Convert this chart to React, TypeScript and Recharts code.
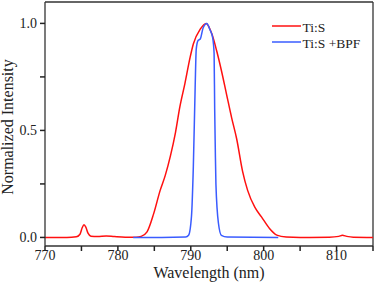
import * as React from 'react';
import { LineChart, Line, XAxis, YAxis, Legend, ReferenceLine, Label } from 'recharts';

// Ti:S laser spectrum, with and without the band-pass filter
const tisWavelength = [
  770, 773, 774.3, 774.8, 775.1, 775.35, 775.6, 775.9, 776.3, 777.2, 778.4, 779.5, 781, 782.5,
  783.2, 784.0, 784.9, 785.8, 786.5, 787.2, 787.9, 788.5, 789.2, 789.9, 790.35, 791.3, 792.1,
  792.9, 793.55, 794.2, 794.9, 795.6, 796.3, 797.1, 797.8, 798.8, 799.7, 800.8, 801.8, 803.1,
  805, 809, 810.3, 810.8, 811.4, 812.3, 815,
];
const tisIntensity = [
  0, 0, 0.003, 0.015, 0.045, 0.059, 0.048, 0.02, 0.006, 0.004, 0.007, 0.004, 0.001, 0.001,
  0.005, 0.026, 0.11, 0.22, 0.29, 0.38, 0.49, 0.61, 0.72, 0.84, 0.904, 0.973, 1.0,
  0.95, 0.872, 0.78, 0.67, 0.56, 0.46, 0.31, 0.22, 0.14, 0.096, 0.042, 0.011, 0.002,
  0, 0.001, 0.005, 0.01, 0.005, 0.001, 0,
];

const bpfWavelength = [
  782.1, 786, 789.3, 789.7, 790.1, 790.35, 790.6, 790.75, 791.0, 791.3, 791.7, 792.2, 792.6,
  793.0, 793.2, 793.28, 793.36, 793.45, 793.8, 794.2, 795, 802.0,
];
const bpfIntensity = [
  0, 0, 0.002, 0.01, 0.1, 0.33, 0.7, 0.88, 0.92, 0.927, 0.98, 1.0, 0.973,
  0.934, 0.86, 0.6, 0.42, 0.25, 0.065, 0.01, 0.002, 0,
];

const xTicks = [770, 775, 780, 785, 790, 795, 800, 805, 810, 815];
const yTicks = [0, 0.25, 0.5, 0.75, 1.0];

const seriesNames = ['Ti:S', 'Ti:S +BPF'];
const seriesColors = ['#ff1010', '#3a5cff'];

const tisData = tisWavelength.map((x, i) => ({ x, y: tisIntensity[i] }));
const bpfData = bpfWavelength.map((x, i) => ({ x, y: bpfIntensity[i] }));

const font = "'Liberation Serif', 'Times New Roman', serif";
const ink = '#222';
const axisColor = '#333';
const tickLen = 5;

// tick props arrive already shifted by tickLen (tickMargin is 0)
const renderXTick = (props: any) => {
  const { x, y, payload } = props;
  if (payload.value % 10 !== 0 || payload.value >= 815) return <g />;
  return (
    <text x={x} y={y + 14 - tickLen} textAnchor="middle" fontSize={14} fontFamily={font} fill={ink}>
      {payload.value}
    </text>
  );
};

const renderYTick = (props: any) => {
  const { x, y, payload } = props;
  if (payload.value !== 0 && payload.value !== 0.5 && payload.value !== 1) return <g />;
  return (
    <text x={x - 8 + tickLen} y={y + 4.8} textAnchor="end" fontSize={14} fontFamily={font} fill={ink}>
      {payload.value.toFixed(1)}
    </text>
  );
};

const renderLegend = () => (
  <svg width={100} height={40}>
    {seriesNames.map((name, i) => (
      <g key={name}>
        <line x1={2} x2={31} y1={10 + i * 16} y2={10 + i * 16} stroke={seriesColors[i]} strokeWidth={1.5} />
        <text x={32.5} y={15.5 + i * 16} fontSize={13.5} fontFamily={font} fill={ink}>
          {name}
        </text>
      </g>
    ))}
  </svg>
);

const XTitle = (props: any) => {
  const { viewBox } = props;
  const cx = viewBox.x + viewBox.width / 2;
  return (
    <text x={cx} y={viewBox.y + 31.5} textAnchor="middle" fontSize={16} fontFamily={font} fill={ink}>
      Wavelength (nm)
    </text>
  );
};

const YTitle = (props: any) => {
  const { viewBox } = props;
  const cy = viewBox.y + viewBox.height / 2 + 3;
  return (
    <text
      x={13}
      y={cy}
      transform={`rotate(-90 13 ${cy})`}
      textAnchor="middle"
      fontSize={16}
      fontFamily={font}
      fill={ink}
    >
      Normalized Intensity
    </text>
  );
};

export default function App() {
  return (
    <div
      style={{ position: 'absolute', left: 0, top: 0, width: 374, height: 286, background: '#fff', fontFamily: font }}
    >
      <LineChart width={374} height={286} margin={{ top: 2, right: 1, bottom: 0, left: 0 }}>
        <XAxis
          type="number"
          dataKey="x"
          domain={[770, 815]}
          ticks={xTicks}
          interval={0}
          allowDataOverflow
          tickSize={tickLen}
          tickMargin={0}
          tickLine={{ stroke: '#222', strokeWidth: 1.5 }}
          tick={renderXTick}
          height={40}
          axisLine={{ stroke: axisColor, strokeWidth: 1.3 }}
        >
          <Label content={<XTitle />} />
        </XAxis>
        <YAxis
          type="number"
          domain={[-0.04, 1.1]}
          ticks={yTicks}
          interval={0}
          allowDataOverflow
          width={45}
          tickSize={tickLen}
          tickMargin={0}
          tickLine={{ stroke: '#222', strokeWidth: 1.5 }}
          tick={renderYTick}
          axisLine={{ stroke: axisColor, strokeWidth: 1.3 }}
        >
          <Label content={<YTitle />} />
        </YAxis>
        <ReferenceLine y={1.1} stroke={axisColor} strokeWidth={1.3} />
        <ReferenceLine x={815} stroke={axisColor} strokeWidth={1.3} />
        <Legend
          layout="vertical"
          align="center"
          verticalAlign="middle"
          content={renderLegend}
          wrapperStyle={{ top: 16, left: 270, width: 100, height: 40 }}
        />
        <Line
          data={tisData}
          dataKey="y"
          name={seriesNames[0]}
          type="monotone"
          stroke={seriesColors[0]}
          strokeWidth={1.5}
          dot={false}
          isAnimationActive={false}
        />
        <Line
          data={bpfData}
          dataKey="y"
          name={seriesNames[1]}
          type="monotone"
          stroke={seriesColors[1]}
          strokeWidth={1.5}
          dot={false}
          isAnimationActive={false}
        />
      </LineChart>
    </div>
  );
}
